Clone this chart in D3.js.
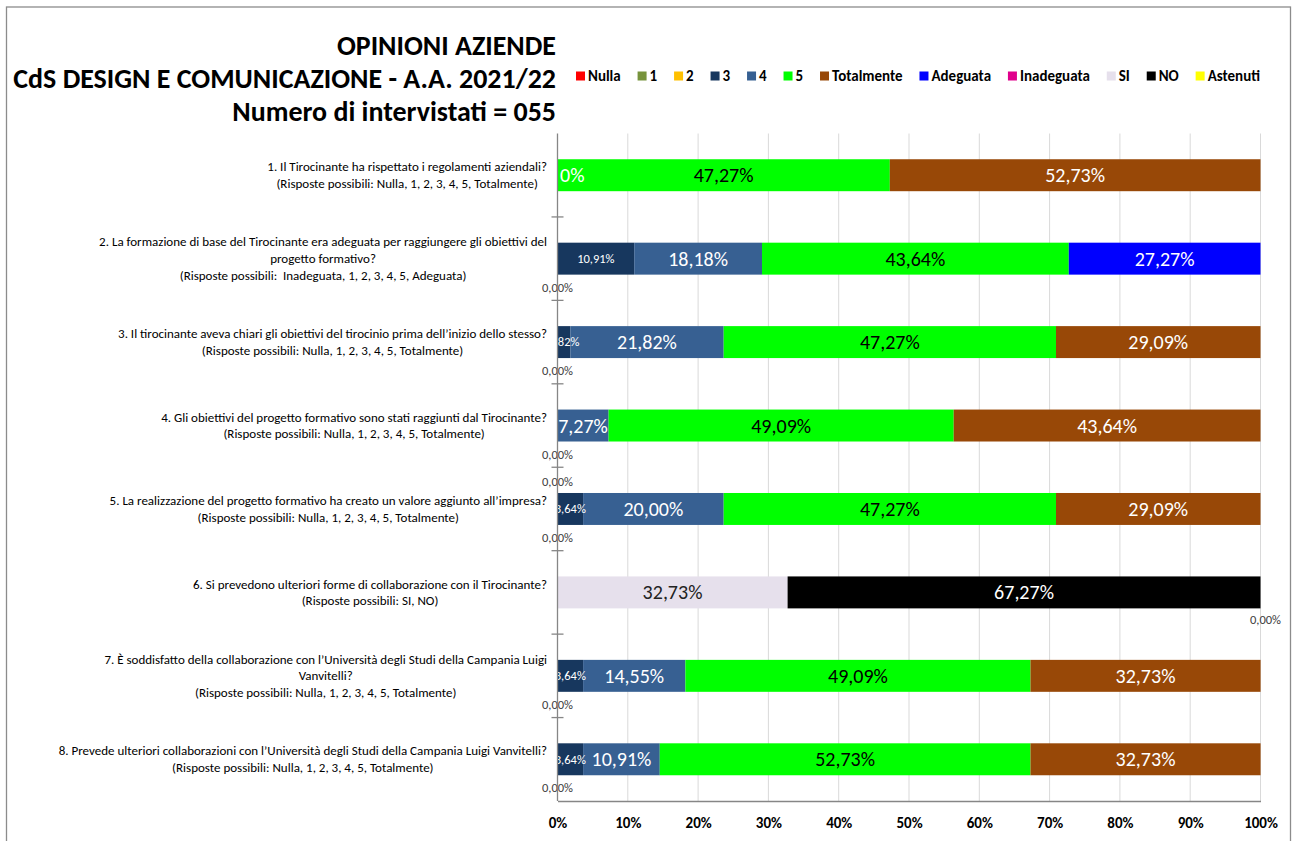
<!DOCTYPE html>
<html><head><meta charset="utf-8">
<script src="https://cdn.jsdelivr.net/npm/d3@7"></script>
<style>
body{margin:0;background:#fff;}
svg{display:block;}
text{font-family:Carlito,Lato,sans-serif;}
</style></head><body>
<svg id="chart" width="1292" height="841"></svg>
<script>
const titleLines = ["OPINIONI AZIENDE", "CdS DESIGN E COMUNICAZIONE - A.A. 2021/22", "Numero di intervistati = 055"];
const questions = [
  ["1. Il Tirocinante ha rispettato i regolamenti aziendali?", "(Risposte possibili: Nulla, 1, 2, 3, 4, 5, Totalmente)"],
  ["2. La formazione di base del Tirocinante era adeguata per raggiungere gli obiettivi del", "progetto formativo?", "(Risposte possibili:  Inadeguata, 1, 2, 3, 4, 5, Adeguata)"],
  ["3. Il tirocinante aveva chiari gli obiettivi del tirocinio prima dell\u2019inizio dello stesso?", "(Risposte possibili: Nulla, 1, 2, 3, 4, 5, Totalmente)"],
  ["4. Gli obiettivi del progetto formativo sono stati raggiunti dal Tirocinante?", "(Risposte possibili: Nulla, 1, 2, 3, 4, 5, Totalmente)"],
  ["5. La realizzazione del progetto formativo ha creato un valore aggiunto all\u2019impresa?", "(Risposte possibili: Nulla, 1, 2, 3, 4, 5, Totalmente)"],
  ["6. Si prevedono ulteriori forme di collaborazione con il Tirocinante?", "(Risposte possibili: SI, NO)"],
  ["7. \u00C8 soddisfatto della collaborazione con l\u2019Universit\u00E0 degli Studi della Campania Luigi", "Vanvitelli?", "(Risposte possibili: Nulla, 1, 2, 3, 4, 5, Totalmente)"],
  ["8. Prevede ulteriori collaborazioni con l\u2019Universit\u00E0 degli Studi della Campania Luigi Vanvitelli?", "(Risposte possibili: Nulla, 1, 2, 3, 4, 5, Totalmente)"]
];
const seriesNames = ["Nulla","1","2","3","4","5","Totalmente","Adeguata","Inadeguata","SI","NO","Astenuti"];
const seriesColors = ["#FF0000","#77933C","#FFC000","#17375E","#376092","#00FF00","#984807","#0000FF","#E0008C","#E6E0EC","#000000","#FFFF00"];
const vNulla      = [0,0,0,0,0,0,0,0];
const v1          = [0,0,0,0,0,0,0,0];
const v2          = [0,0,0,0,0,0,0,0];
const v3          = [0,10.91,1.82,0,3.64,0,3.64,3.64];
const v4          = [0,18.18,21.82,7.27,20.00,0,14.55,10.91];
const v5          = [47.27,43.64,47.27,49.09,47.27,0,49.09,52.73];
const vTotalmente = [52.73,0,29.09,43.64,29.09,0,32.73,32.73];
const vAdeguata   = [0,27.27,0,0,0,0,0,0];
const vInadeguata = [0,0,0,0,0,0,0,0];
const vSI         = [0,0,0,0,0,32.73,0,0];
const vNO         = [0,0,0,0,0,67.27,0,0];
const vAstenuti   = [0,0,0,0,0,0,0,0];
const seriesValues = [vNulla,v1,v2,v3,v4,v5,vTotalmente,vAdeguata,vInadeguata,vSI,vNO,vAstenuti];
// zero-value data labels visible in the picture: question index, stacked position (%), placement, shown text
const zeroLabels = [
  {q:0, at:0, place:"inside", text:"0%"},
  {q:1, at:0, place:"below", text:"0,00%"},
  {q:2, at:0, place:"below", text:"0,00%"},
  {q:3, at:0, place:"below", text:"0,00%"},
  {q:4, at:0, place:"above", text:"0,00%"},
  {q:4, at:0, place:"below", text:"0,00%"},
  {q:5, at:100, place:"belowRight", text:"0,00%"},
  {q:6, at:0, place:"below", text:"0,00%"},
  {q:7, at:0, place:"below", text:"0,00%"}
];
const xTicks = [0,10,20,30,40,50,60,70,80,90,100];

const fmt = v => d3.format(".2f")(v).replace(".", ",") + "%";
const svg = d3.select("#chart");
const W = 1292, H = 841;
const plot = {left:557.5, right:1260.5, top:133.5, bottom:801};

// chart border
svg.append("rect").attr("x",6.5).attr("y",7).attr("width",1284).attr("height",H)
  .attr("fill","none").attr("stroke","#8c8c8c").attr("stroke-width",1.3);

const x = d3.scaleLinear().domain([0,100]).range([plot.left, plot.right]);
const y = d3.scaleBand().domain(d3.range(questions.length)).range([plot.top, plot.bottom]).paddingInner(0.617).paddingOuter(0.3085);

// gridlines
svg.append("g").selectAll("line").data(xTicks.slice(1)).join("line")
  .attr("x1",d=>x(d)).attr("x2",d=>x(d)).attr("y1",plot.top).attr("y2",plot.bottom)
  .attr("stroke","#d9d9d9").attr("stroke-width",1);

// stacked data
const rows = questions.map((q,i)=>{ const o={}; seriesNames.forEach((s,j)=>o[s]=seriesValues[j][i]); return o; });
const stack = d3.stack().keys(seriesNames)(rows);

const defs = svg.append("defs");
defs.append("clipPath").attr("id","plotclip").append("rect")
  .attr("x",plot.left).attr("y",0).attr("width",plot.right-plot.left+30).attr("height",H);

const gBars = svg.append("g");
stack.forEach((layer,j)=>{
  gBars.append("g").attr("fill",seriesColors[j]).selectAll("rect").data(layer).join("rect")
    .attr("x",d=>x(d[0])).attr("width",d=>Math.max(0,x(d[1])-x(d[0])))
    .attr("y",(d,i)=>y(i)).attr("height",y.bandwidth());
});

// labels
const labelColor = {"3":"#fff","4":"#fff","5":"#000","Totalmente":"#fff","Adeguata":"#fff","SI":"#222","NO":"#fff"};
const gLab = svg.append("g").attr("clip-path","url(#plotclip)");
stack.forEach((layer,j)=>{
  const name = seriesNames[j];
  layer.forEach((d,i)=>{
    const v = d[1]-d[0];
    if (v<=0) return;
    const small = name==="3";
    gLab.append("text").attr("x",x((d[0]+d[1])/2)).attr("y",y(i)+y.bandwidth()/2)
      .attr("dy","0.35em").attr("text-anchor","middle")
      .attr("font-size", small?12.5:20).attr("fill",labelColor[name]||"#000").text(fmt(v));
  });
});
zeroLabels.forEach(z=>{
  const cy = y(z.q)+y.bandwidth()/2;
  const t = svg.append("text").attr("font-size",12.5).attr("fill","#404040").text(z.text);
  if (z.place==="inside") {
    t.attr("x",x(z.at)+27).attr("y",cy).attr("dy","0.35em")
     .attr("text-anchor","end").attr("font-size",20).attr("fill","#fff");
  } else if (z.place==="below") {
    t.attr("x",x(z.at)).attr("y",cy+y.bandwidth()/2+17).attr("text-anchor","middle");
  } else if (z.place==="above") {
    t.attr("x",x(z.at)).attr("y",cy-y.bandwidth()/2-7).attr("text-anchor","middle");
  } else {
    t.attr("x",x(z.at)+5).attr("y",cy+y.bandwidth()/2+16).attr("text-anchor","middle");
  }
});

// axes
const xAxis = svg.append("g").attr("transform",`translate(0,${plot.bottom})`)
  .call(d3.axisBottom(x).tickValues(xTicks).tickSize(0).tickPadding(16).tickFormat(d=>d+"%"));
xAxis.select(".domain").attr("stroke","#868686").attr("stroke-width",1.3);
xAxis.selectAll("text").attr("font-size",15).attr("font-weight","bold").attr("fill","#000")
  .attr("font-family",'Carlito,Lato,sans-serif');

svg.append("line").attr("x1",plot.left).attr("x2",plot.left).attr("y1",plot.top).attr("y2",plot.bottom)
  .attr("stroke","#868686").attr("stroke-width",1.3);
const bounds = d3.range(1,questions.length).map(i=>y(i)-y.step()*y.paddingInner()/2);
svg.append("g").selectAll("line").data(bounds).join("line")
  .attr("x1",plot.left-6).attr("x2",plot.left+6).attr("y1",d=>d).attr("y2",d=>d)
  .attr("stroke","#868686").attr("stroke-width",1.3);

// question labels: size fitted so the widest line matches the picture's width
const probe = svg.append("text").attr("font-size",13).text(questions[7][0]);
const qFont = 13 * 489 / probe.node().getComputedTextLength();
probe.remove();
questions.forEach((lines,i)=>{
  const cy = y(i)+y.bandwidth()/2;
  const g = svg.append("g");
  const lh = 16.8;
  const ts = lines.map((l,k)=>g.append("text").attr("font-size",qFont).attr("fill","#000")
    .attr("y",cy+(k-(lines.length-1)/2)*lh).attr("dy","0.35em").attr("text-anchor","middle")
    .style("white-space","pre").text(l));
  const maxW = d3.max(ts,t=>t.node().getComputedTextLength());
  ts.forEach(t=>t.attr("x",547-maxW/2));
});

// title
const tprobe = svg.append("text").attr("font-size",25).attr("font-weight","bold").text(titleLines[1]);
const tFont = 25 * 543 / tprobe.node().getComputedTextLength();
tprobe.remove();
titleLines.forEach((t,k)=>{
  svg.append("text").attr("x",556).attr("y",55+k*33).attr("text-anchor","end")
    .attr("font-size",tFont).attr("font-weight","bold").attr("fill","#000").text(t);
});

// legend
const lg = svg.append("g");
const items = seriesNames.map((s,j)=>{
  const g = lg.append("g");
  g.append("rect").attr("width",9).attr("height",9).attr("y",-4.5).attr("fill",seriesColors[j]);
  const t = g.append("text").attr("x",12).attr("dy","0.35em").attr("font-size",15).attr("font-weight","bold").text(s);
  return {g, w: 12 + t.node().getComputedTextLength()};
});
const total = d3.sum(items,d=>d.w);
const gap = (1260-576-total)/(items.length-1);
let cx = 576;
items.forEach(it=>{ it.g.attr("transform",`translate(${cx},76)`); cx += it.w+gap; });
</script></body></html>
